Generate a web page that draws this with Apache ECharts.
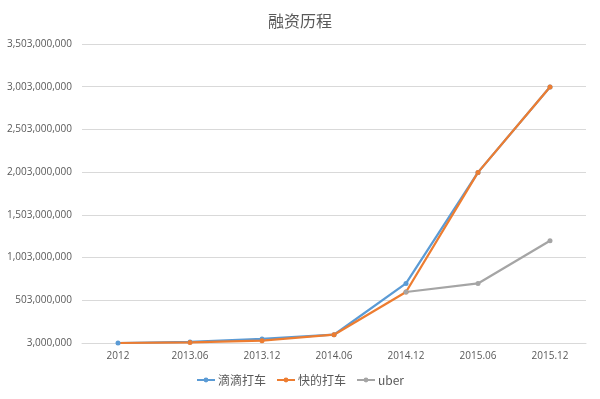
<!DOCTYPE html>
<html>
<head>
<meta charset="utf-8">
<script src="https://cdn.jsdelivr.net/npm/echarts@6/dist/echarts.min.js"></script>
<style>
    html, body { margin: 0; padding: 0; background: #fff; }
    #chart { width: 600px; height: 399px; }
</style>
</head>
<body>
<div id="chart"></div>
<script>
    // 数据
    const categories = ['2012', '2013.06', '2013.12', '2014.06', '2014.12', '2015.06', '2015.12'];
    const didiData = [3000000, 15000000, 50000000, 100000000, 700000000, 2000000000, 3000000000];
    const kuaidiData = [3000000, 10000000, 30000000, 100000000, 600000000, 2000000000, 3000000000];
    const uberData = [null, null, null, null, 600000000, 700000000, 1200000000];
    const seriesNames = ['滴滴打车', '快的打车', 'uber'];

    const colors = ['#5B9BD5', '#ED7D31', '#A5A5A5'];
    const cjk = '"Noto Sans CJK SC", sans-serif';

    function lineSeries(name, data, color) {
        return {
            name: name,
            type: 'line',
            data: data,
            symbol: 'circle',
            symbolSize: 5,
            lineStyle: { width: 2.25, color: color },
            itemStyle: { color: color },
            emphasis: { disabled: true },
            animation: false
        };
    }

    const chart = echarts.init(document.getElementById('chart'));
    chart.setOption({
        backgroundColor: '#fff',
        title: {
            text: '融资历程',
            left: 'center',
            top: 8,
            textStyle: { fontFamily: cjk, fontSize: 16, fontWeight: 'normal', color: '#595959' }
        },
        legend: {
            bottom: 8,
            left: 'center',
            itemWidth: 18,
            itemHeight: 6,
            itemGap: 10,
            textStyle: { fontFamily: cjk, fontSize: 12, color: '#595959', padding: [0, 0, 0, -2] },
            data: seriesNames
        },
        grid: { left: 82, right: 14, top: 44, bottom: 56 },
        xAxis: {
            type: 'category',
            data: categories,
            boundaryGap: true,
            axisLine: { lineStyle: { color: '#d9d9d9' } },
            axisTick: { show: false },
            axisLabel: { fontFamily: 'Open Sans, sans-serif', fontSize: 10, color: '#595959', margin: 8 }
        },
        yAxis: {
            type: 'value',
            min: 3000000,
            max: 3503000000,
            interval: 500000000,
            axisLine: { show: false },
            axisTick: { show: false },
            splitLine: { lineStyle: { color: '#d9d9d9', width: 1 } },
            axisLabel: {
                fontFamily: 'Open Sans, sans-serif',
                fontSize: 10,
                color: '#595959',
                margin: 10,
                formatter: v => Math.round(v).toLocaleString('en-US')
            }
        },
        series: [
            lineSeries(seriesNames[0], didiData, colors[0]),
            lineSeries(seriesNames[1], kuaidiData.map((v, i) => i === 0 ? { value: v, symbol: 'none' } : v), colors[1]),
            lineSeries(seriesNames[2], uberData, colors[2])
        ]
    });
</script>
</body>
</html>
